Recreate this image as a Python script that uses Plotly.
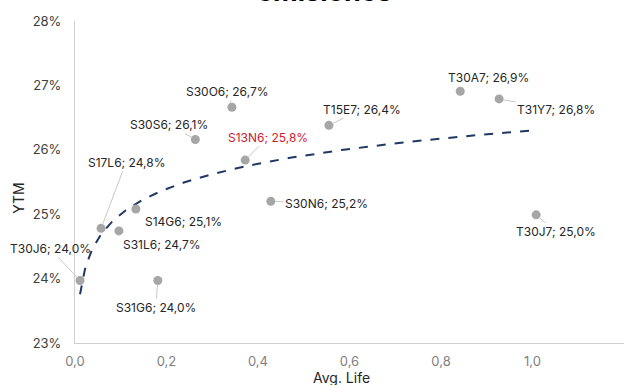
import numpy as np
import plotly.graph_objects as go

names = ["T30J6", "S17L6", "S31L6", "S14G6", "S31G6", "S30S6", "S30O6",
         "S13N6", "S30N6", "T15E7", "T30A7", "T31Y7", "T30J7"]
avg_life = [0.011, 0.057, 0.096, 0.133, 0.181, 0.263, 0.343,
            0.372, 0.428, 0.555, 0.842, 0.927, 1.008]
ytm = [23.97, 24.78, 24.74, 25.08, 23.97, 26.16, 26.66,
       25.84, 25.20, 26.38, 26.91, 26.79, 24.99]
labels = ["T30J6; 24,0%", "S17L6; 24,8%", "S31L6; 24,7%", "S14G6; 25,1%",
          "S31G6; 24,0%", "S30S6; 26,1%", "S30O6; 26,7%", "S13N6; 25,8%",
          "S30N6; 25,2%", "T15E7; 26,4%", "T30A7; 26,9%", "T31Y7; 26,8%",
          "T30J7; 25,0%"]
highlight = "S13N6"
# label offsets (pixels) and whether a leader line is drawn
offsets = [(-30, -32), (25, -66), (43, 14), (48, 12), (-2, 27), (-26, -15),
           (-4, -16), (23, -23), (56, 2), (33, -16), (28, -14), (57, 11), (20, 17)]
leaders = [True, True, False, False, True, True, True, True, True, True,
           False, True, True]

FONT = "Inter"

# logarithmic trendline (least squares on ln x), as in the spreadsheet
b, a = np.polyfit(np.log(avg_life), ytm, 1)
xt = np.linspace(min(avg_life), max(avg_life), 200)
yt = a + b * np.log(xt)

fig = go.Figure()
fig.add_trace(go.Scatter(x=xt, y=yt, mode="lines",
                         line=dict(color="#203864", width=2, dash="dash"),
                         hoverinfo="skip", showlegend=False))
fig.add_trace(go.Scatter(x=avg_life, y=ytm, mode="markers",
                         marker=dict(color="#a6a6a6", size=9),
                         showlegend=False))

for n, xv, yv, lab, (ax, ay), ld in zip(names, avg_life, ytm, labels, offsets, leaders):
    fig.add_annotation(x=xv, y=yv, text=lab, showarrow=True, arrowhead=0,
                       arrowwidth=1,
                       arrowcolor="#c8c8c8" if ld else "rgba(0,0,0,0)",
                       ax=ax, ay=ay, standoff=4,
                       font=dict(family=FONT, size=12,
                                 color="#d0202a" if n == highlight else "#262626"))

fig.add_annotation(xref="paper", yref="paper", x=(324.5 - 75) / 549, y=1.0,
                   yshift=11, xanchor="center", yanchor="bottom",
                   text="<b>emisiones</b>", showarrow=False,
                   font=dict(family=FONT, size=27, color="#000000"))
fig.add_annotation(xref="paper", yref="paper", x=(19 - 75) / 549, y=(342.7 - 197.5) / 322,
                   xanchor="center", yanchor="middle", textangle=-90,
                   text="YTM", showarrow=False,
                   font=dict(family=FONT, size=14, color="#262626"))
fig.add_annotation(xref="paper", yref="paper", x=(341.5 - 75) / 549, y=(342.7 - 377) / 322,
                   xanchor="center", yanchor="middle",
                   text="Avg. Life", showarrow=False,
                   font=dict(family=FONT, size=14, color="#262626"))

fig.update_layout(
    width=627, height=385,
    margin=dict(l=75, r=3, t=21, b=42),
    paper_bgcolor="white", plot_bgcolor="white",
    font=dict(family=FONT),
    separators=",.",
)
fig.update_xaxes(range=[0, 1.2], dtick=0.2, tickformat=".1f", automargin=False,
                 showgrid=False, zeroline=False, showline=True,
                 linecolor="#d0d0d0", linewidth=1,
                 ticks="outside", ticklen=6, tickcolor="rgba(0,0,0,0)",
                 tickfont=dict(family=FONT, size=13, color="#7f7f7f"))
fig.update_yaxes(range=[23, 28], dtick=1, ticksuffix="%", automargin=False,
                 showgrid=False, zeroline=False, showline=True,
                 linecolor="#d0d0d0", linewidth=1,
                 ticks="outside", ticklen=10, tickcolor="rgba(0,0,0,0)",
                 tickfont=dict(family=FONT, size=13, color="#404040"))

# place the figure flush with the page corner
post = "document.body.style.margin='0';"
fig.write_html("out.html", post_script=post, config={"displayModeBar": False})
